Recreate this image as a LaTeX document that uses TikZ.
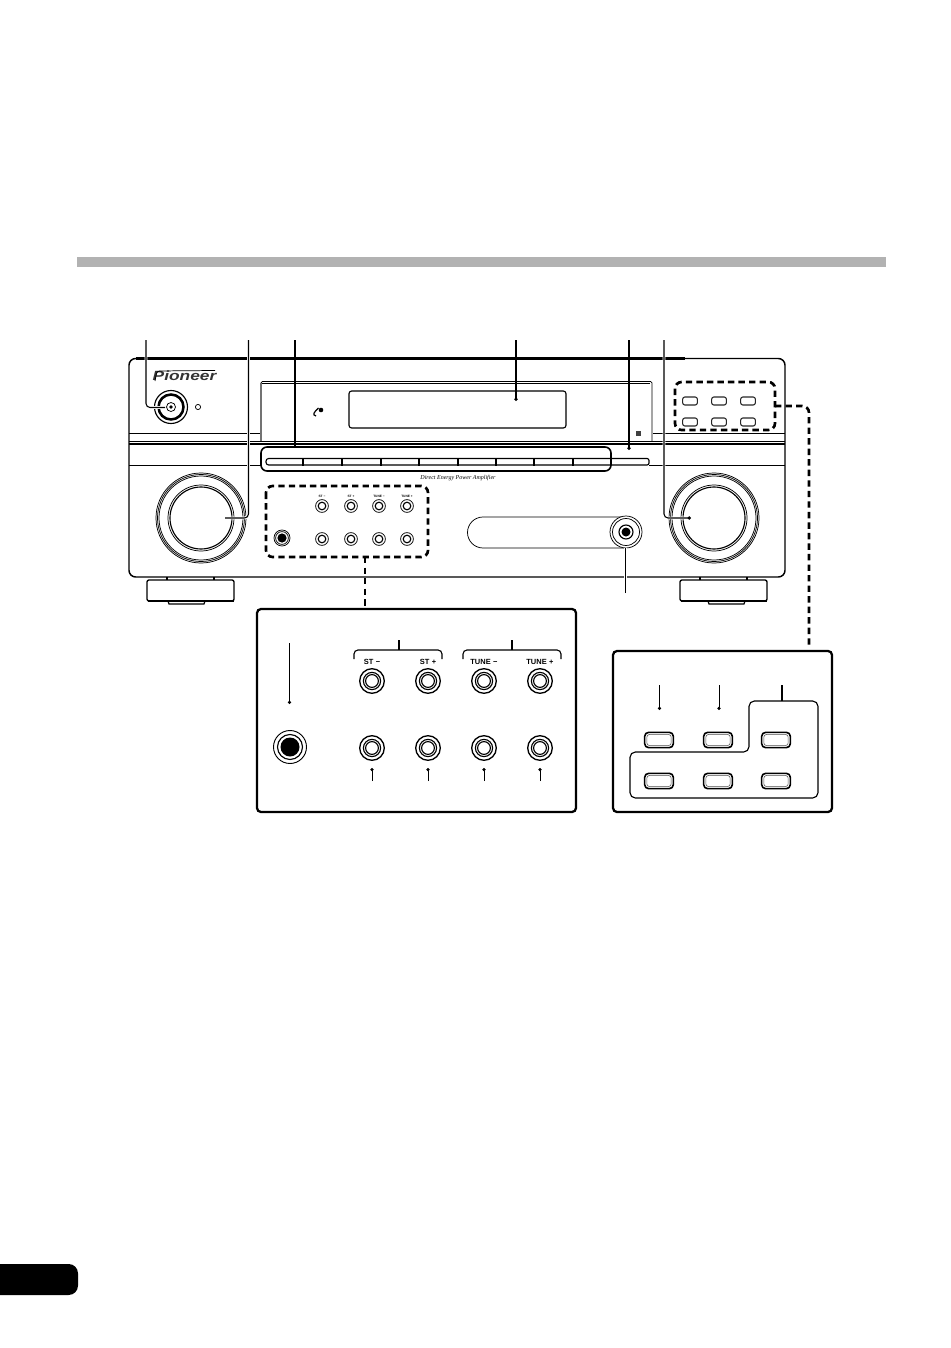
\documentclass[tikz,border=0pt]{standalone}
\usepackage{fontspec}
\setmainfont{Liberation Serif}
\setsansfont{Liberation Sans}
\usetikzlibrary{arrows.meta}
\tikzset{
  thin line/.style={line width=0.55pt,black},
  mid line/.style={line width=0.85pt,black},
  heavy line/.style={line width=1.6pt,black},
  callout/.style={line width=0.8pt,black,rounded corners=3pt,preaction={draw=white,line width=2.2pt,arrows=-}},
  callout dot/.style={callout,-{Circle[length=2.6pt,width=2.6pt]}},
  fine dot/.style={line width=0.6pt,black,-{Circle[length=2.4pt,width=2.4pt]}},
  dashed box/.style={line width=2pt,black,dash pattern=on 4.8pt off 3.1pt,rounded corners=5pt},
  panel/.style={line width=1.7pt,black,rounded corners=3pt},
  tiny key/.style={font=\sffamily\bfseries\fontsize{2.4}{3}\selectfont,inner sep=0pt},
  key label/.style={font=\sffamily\bfseries\fontsize{5.6}{7}\selectfont,inner sep=0pt},
  faceplate key/.style={draw,line width=0.8pt,black!85,rounded corners=1.6pt,minimum width=11pt,minimum height=6pt,inner sep=0pt},
  zoom key/.style={draw,line width=1.2pt,rounded corners=3pt,minimum width=21.5pt,minimum height=11.5pt,inner sep=0pt},
  zoom key inner/.style={draw,line width=0.4pt,black!70,rounded corners=2pt,minimum width=18.3pt,minimum height=8.3pt,inner sep=0pt}
}
\begin{document}
\begin{tikzpicture}[x=0.75pt,y=-0.75pt]
\useasboundingbox (0,0) rectangle (950,1348);
% heading band and page tab
\fill[black!30] (77,257) rectangle (886,267);
\fill[black,rounded corners=7pt] (-20,1264) rectangle (78,1295);
% feet
\foreach \fx/\ftl/\ftr/\fbl/\fbr in {147/167/214/168/205,680/700/747/708/745}{
  \draw[mid line] (\ftl,577) -- (\ftl,580) (\ftr,577) -- (\ftr,580);
  \draw[heavy line,line width=1pt,rounded corners=1.5pt] (\fx,580) -- (\fx+87,580) -- (\fx+87,601) -- (\fx,601) -- cycle;
  \draw[heavy line] (\fx+1,601) -- (\fx+87,601);
  \draw[mid line] (\fbl,601) -- (\fbl+1,604) -- (\fbr-1,604) -- (\fbr,601);
}
% chassis
\draw[line width=1.1pt,rounded corners=5pt] (685,358.5) -- (785,358.5) -- (785,577) -- (129,577) -- (129,358.5) -- (140,358.5);
\draw[line width=2.5pt] (136,358.5) -- (685,358.5);
\draw[mid line] (129,441.5) -- (785,441.5);
\draw[mid line] (129,444) -- (785,444);
\draw[thin line] (129,433) -- (261,433) (653,433) -- (785,433);
\draw[thin line] (129,465) -- (261,465) (649,465) -- (785,465);
% display hood
\draw[line width=1pt,black!55] (261,441) -- (261,383);
\draw[thin line,rounded corners=1pt] (261,383) -- (261,381.5) -- (652,381.5) -- (652,441);
\draw[thin line] (262,383.5) -- (650,383.5);
\draw[mid line,rounded corners=2pt] (349,391) rectangle (566,428);
% logo
\node[inner sep=0pt,text=black!80] (logo) at (184.5,376) {\scalebox{1.3}[1]{\sffamily\bfseries\itshape\fontsize{10}{11}\selectfont Pioneer}};
\draw[thin line,rounded corners=2pt] (155,381) -- (157,371) -- (215,370.5);
% power
\coordinate (power) at (171,407);
\draw[mid line] (power) circle[radius=16.5];
\draw[line width=1.9pt] (power) circle[radius=12.5];
\draw[thin line] (power) circle[radius=4.5];
\fill (power) circle[radius=1.8];
\draw[thin line] (198,407) circle[radius=2.6];
% D mark
\draw[line width=0.9pt] (318.5,408) .. controls (314,412) and (312,415) .. (316,416);
\fill (321,410) circle[radius=2.3];
% selector strip
\draw[line width=1.2pt,rounded corners=4.5pt] (261,447) rectangle (611,471);
\draw[mid line,rounded corners=2pt] (611,465) -- (266,465) -- (266,458.5) -- (611,458.5);
\foreach \tx in {303,342,381,419,458,496,534,573}{\draw[mid line] (\tx,458) -- (\tx,466);}
\draw[mid line,rounded corners=1.5pt] (611,458.5) -- (649,458.5) -- (649,465) -- (611,465);
\node[inner sep=0pt,font=\itshape\fontsize{4.5}{6}\selectfont] (slogan) at (458,478) {Direct Energy Power Amplifier};
% knobs
\coordinate (kleft) at (201,518);
\coordinate (kright) at (714,518);
\foreach \k in {kleft,kright}{
  \foreach \r in {45,43.5,42}{\draw[thin line] (\k) circle[radius=\r];}
  \draw[thin line] (\k) circle[radius=33];
  \draw[mid line] (\k) circle[radius=31];
}
% front group of keys
\draw[dashed box] (266,486) rectangle (428,557);
\coordinate (jackS) at (282,538);
\draw[thin line] (jackS) circle[radius=8];
\draw[thin line] (jackS) circle[radius=6.4];
\fill (jackS) circle[radius=4.6];
\foreach \x/\t in {322/ST −,351/ST +,379/TUNE −,407/TUNE +}{
  \node[tiny key] at (\x,496) {\t};
  \foreach \y in {506,539}{
    \draw[thin line] (\x,\y) circle[radius=6.4];
    \draw[mid line] (\x,\y) circle[radius=3.8];
  }
}
% wide oval and phones socket
\draw[thin line] (625,517) -- (483,517) arc[start angle=270,end angle=90,radius=15.5] -- (625,548);
\coordinate (phones) at (626,532);
\fill[white] (phones) circle[radius=16];
\draw[thin line] (phones) circle[radius=16];
\draw[thin line] (phones) circle[radius=13.5];
\draw[mid line] (phones) circle[radius=7];
\fill (phones) circle[radius=4.5];
% right group of keys
\draw[dashed box] (675,382) rectangle (775,430);
\foreach \x in {690,719,748}{\foreach \y in {401,422}{
  \node[faceplate key] at (\x,\y) {};
}}
\fill[black!75] (636,431) rectangle (641,436);
% callouts
\coordinate (c1t) at (146,340); \coordinate (c1c) at (146,407.5); \coordinate (c1e) at (165,407.5);
\coordinate (c2t) at (248.5,340); \coordinate (c2c) at (248.5,518); \coordinate (c2e) at (225,518);
\coordinate (c3t) at (295,340); \coordinate (c3e) at (295,447);
\coordinate (c4t) at (516,340); \coordinate (c4e) at (516,401);
\coordinate (c5t) at (629,340); \coordinate (c5e) at (629,450);
\coordinate (c6t) at (664,340); \coordinate (c6c) at (664,518); \coordinate (c6e) at (691,518);
\coordinate (c7t) at (625.5,593); \coordinate (c7e) at (625.5,548);
\draw[callout] (c1t) -- (c1c) -- (c1e);
\draw[callout] (c2t) -- (c2c) -- (c2e);
\draw[callout] (c3t) -- (c3e);
\draw[callout dot] (c4t) -- (c4e);
\draw[callout dot] (c5t) -- (c5e);
\draw[callout dot] (c6t) -- (c6c) -- (c6e);
\draw[callout] (c7t) -- (c7e);
% panel one
\draw[panel] (257,609) rectangle (576,812);
\coordinate (dash1a) at (365,557);
\coordinate (dash1b) at (365,606);
\draw[dashed box] (dash1a) -- (dash1b);
\coordinate (jackB) at (290,747);
\draw[line width=0.7pt] (jackB) circle[radius=16.5];
\draw[mid line] (jackB) circle[radius=12.5];
\fill (jackB) circle[radius=9.5];
\coordinate (d1t) at (289.5,643); \coordinate (d1e) at (289.5,704);
\draw[fine dot] (d1t) -- (d1e);
\foreach \x/\t in {372/ST\,\,−,428/ST\,\,+,484/TUNE\,\,−,540/TUNE\,\,+}{
  \node[key label] at (\x,662) {\t};
  \foreach \y in {681,748}{
    \draw[line width=1pt] (\x,\y) circle[radius=12.3];
    \draw[mid line] (\x,\y) circle[radius=8.6];
    \draw[mid line] (\x,\y) circle[radius=6.4];
  }
  \coordinate (u) at (\x,781);
  \coordinate (ue) at (\x,768);
  \draw[fine dot] (u) -- (ue);
}
\coordinate (br1) at (399,650); \coordinate (br2) at (512,650);
\draw[mid line] (399,640) -- (br1);
\draw[mid line] (512,640) -- (br2);
\draw[mid line,rounded corners=3pt] (354,659) -- (354,650) -- (442,650) -- (442,659);
\draw[mid line,rounded corners=3pt] (463,659) -- (463,650) -- (561,650) -- (561,659);
% panel two
\draw[panel] (613,651) rectangle (832,812);
\coordinate (dash2a) at (775,406);
\coordinate (dash2c) at (809,406);
\coordinate (dash2b) at (809,647);
\draw[dashed box] (dash2a) -- (dash2c) -- (dash2b);
\foreach \x in {659,718,776}{\foreach \y in {740,781}{
  \node[zoom key] at (\x,\y) {};
  \node[zoom key inner] at (\x,\y) {};
}}
\draw[mid line,rounded corners=4pt] (749,701) -- (818,701) -- (818,798) -- (630,798) -- (630,752) -- (749,752) -- cycle;
\coordinate (e1t) at (659.5,685); \coordinate (e1e) at (659.5,710);
\coordinate (e2t) at (719,685); \coordinate (e2e) at (719,710);
\coordinate (e3t) at (782,685); \coordinate (e3e) at (782,701);
\draw[fine dot] (e1t) -- (e1e);
\draw[fine dot] (e2t) -- (e2e);
\draw[mid line] (e3t) -- (e3e);
\end{tikzpicture}
\end{document}
